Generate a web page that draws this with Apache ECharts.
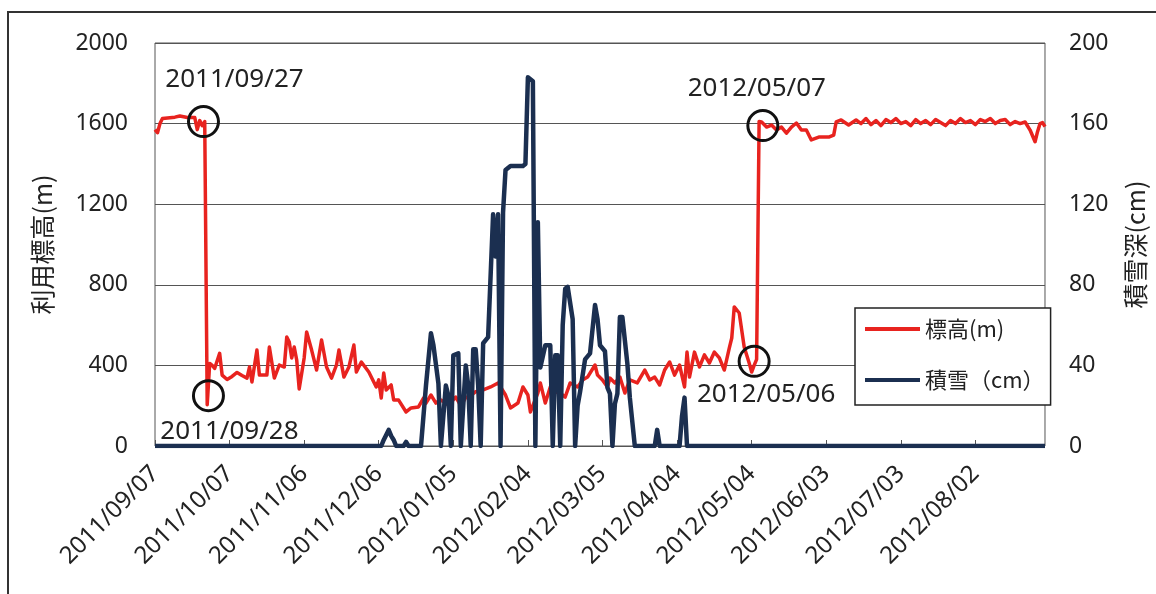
<!DOCTYPE html>
<html>
<head>
<meta charset="utf-8">
<script src="https://cdn.jsdelivr.net/npm/echarts@6/dist/echarts.min.js"></script>
<style>
  html, body { margin: 0; padding: 0; background: #fff; }
  #chart { width: 1156px; height: 594px; }
</style>
</head>
<body>
<div id="chart"></div>
<script>
// x軸: 2011/09/07 からの経過日数
var dateTicks = ["2011/09/07", "2011/10/07", "2011/11/06", "2011/12/06", "2012/01/05", "2012/02/04",
  "2012/03/05", "2012/04/04", "2012/05/04", "2012/06/03", "2012/07/03", "2012/08/02"];

// 標高(m) - 読み取り点
var elevDay = [0, 1, 2, 3, 5, 8, 10, 13, 16, 17, 18, 19, 20, 21, 22, 23, 24, 26, 27, 29, 31, 33, 35, 37, 38, 39,
  41, 42, 45, 46, 48, 50, 52, 53, 54, 55, 56, 57, 58, 60, 61, 63, 65, 67, 69, 71, 73, 74, 76, 78, 80, 81, 83,
  86, 89, 90, 91, 92, 93, 95, 96, 98, 101, 103, 106, 108, 109, 111, 113, 115, 118, 121, 123, 125, 127, 129,
  132, 135, 138, 141, 143, 146, 148, 150, 151, 154, 155, 157, 159, 161, 163, 165, 167, 170, 172, 174, 177,
  178, 180, 182, 183, 185, 187, 189, 191, 194, 197, 199, 201, 203, 205, 207, 209, 211, 213, 214, 215, 217,
  219, 221, 223, 225, 227, 229, 231, 232, 233, 235, 237, 239, 240, 241, 242, 243, 244, 246, 248, 250, 252,
  254, 256, 258, 260, 262, 264, 267, 271, 273, 274, 276, 279, 282, 284, 286, 288, 290, 292, 294, 296, 298,
  300, 302, 304, 306, 308, 310, 312, 314, 316, 318, 320, 322, 324, 326, 328, 330, 332, 334, 336, 338, 340,
  342, 344, 346, 348, 350, 352, 354, 355, 356, 357, 358];
var elevM = [1570, 1555, 1600, 1625, 1628, 1632, 1638, 1630, 1630, 1570, 1615, 1590, 1610, 205, 410, 400, 385,
  460, 352, 330, 345, 365, 350, 337, 392, 318, 476, 352, 352, 491, 337, 402, 392, 541, 516, 437, 491, 427,
  283, 437, 566, 476, 377, 526, 392, 337, 402, 476, 342, 392, 501, 367, 417, 367, 293, 328, 238, 362, 278,
  303, 228, 228, 169, 189, 194, 238, 213, 253, 213, 228, 203, 243, 200, 240, 250, 270, 278, 293, 313, 253,
  189, 213, 293, 253, 169, 263, 313, 213, 293, 268, 263, 243, 313, 293, 328, 342, 402, 352, 328, 293, 337,
  313, 342, 263, 328, 313, 377, 328, 342, 303, 377, 417, 352, 402, 293, 466, 342, 466, 392, 452, 412, 466,
  437, 377, 486, 536, 690, 660, 491, 412, 367, 400, 430, 1610, 1608, 1583, 1593, 1568, 1583, 1553, 1583,
  1603, 1568, 1568, 1519, 1533, 1533, 1543, 1608, 1618, 1593, 1618, 1600, 1625, 1595, 1615, 1590, 1620,
  1605, 1625, 1600, 1610, 1590, 1620, 1600, 1615, 1595, 1620, 1605, 1590, 1615, 1600, 1625, 1605, 1615,
  1595, 1620, 1610, 1625, 1600, 1615, 1620, 1595, 1610, 1600, 1608, 1568, 1510, 1560, 1600, 1605, 1585];

// 積雪(cm) - 読み取り点
var snowDay = [0, 91, 92, 94, 95, 96, 97, 100, 101, 102, 107, 109, 111, 112, 114, 115, 117, 118, 119, 120, 122,
  123, 125, 126, 127, 128, 129, 130, 131, 132, 134, 136, 137, 138, 139, 140, 141, 143, 148, 149, 150, 151,
  152, 153, 154, 155, 157, 159, 160, 161, 162, 163, 164, 165, 166, 168, 169, 170, 171, 173, 175, 177, 178,
  179, 181, 182, 183, 184, 185, 186, 187, 188, 190, 191, 193, 201, 202, 203, 211, 212, 213, 214, 358];
var snowCm = [0, 0, 3, 8, 5, 3, 0, 0, 2, 0, 0, 30, 56, 50, 31, 0, 30, 25, 0, 45, 46, 0, 40, 30, 0, 48, 48, 30,
  0, 51, 54, 115, 94, 115, 0, 116, 137, 139, 139, 140, 183, 182, 181, 0, 111, 39, 50, 50, 0, 45, 45, 0, 60,
  78, 79, 63, 0, 20, 27, 43, 46, 70, 63, 50, 47, 29, 26, 0, 21, 26, 64, 64, 41, 24, 0, 0, 8, 0, 0, 15, 24,
  0, 0];

// 注記
var noteText = ["2011/09/27", "2011/09/28", "2012/05/07", "2012/05/06"];
var noteDay = [19.5, 21.5, 244.5, 241];
var noteM = [1610, 250, 1590, 420];
var noteOffset = [[31, -42], [21, 36], [-6, -37], [12, 33]];

var numFont = "Noto Sans";
var jpFont = "Noto Sans CJK JP";

var myChart = echarts.init(document.getElementById("chart"));
var option = {
  animation: false,
  backgroundColor: "#fff",
  graphic: [{
    type: "rect",
    shape: { x: 8, y: 12, width: 1200, height: 700 },
    style: { fill: "none", stroke: "#333", lineWidth: 2 },
    silent: true
  }],
  grid: {
    show: true,
    left: 155, right: 105, top: 43, bottom: 148,
    borderColor: "#555", borderWidth: 1
  },
  legend: {
    orient: "vertical",
    left: 855, top: 308,
    backgroundColor: "#fff",
    borderColor: "#222", borderWidth: 1.5,
    padding: [8, 6, 12, 10],
    itemGap: 25,
    itemWidth: 55, itemHeight: 4,
    icon: "rect",
    textStyle: { fontFamily: jpFont, fontSize: 22, color: "#222", lineHeight: 26 },
    data: ["標高(m)", "積雪（cm）"]
  },
  xAxis: {
    type: "value",
    min: 0, max: 358, interval: 30,
    splitLine: { show: false },
    axisLine: { show: false },
    axisTick: { show: true, inside: true, length: 6, lineStyle: { color: "#555" } },
    axisLabel: {
      rotate: 45, margin: 24, showMaxLabel: false,
      fontFamily: numFont, fontSize: 24, color: "#222",
      formatter: function (v) { return dateTicks[v / 30] || ""; }
    }
  },
  yAxis: [{
    type: "value",
    min: 0, max: 2000, interval: 400,
    name: "利用標高(m)", nameLocation: "middle", nameRotate: 90, nameGap: 100,
    nameTextStyle: { fontFamily: jpFont, fontSize: 25, color: "#222" },
    axisLine: { show: false }, axisTick: { show: false },
    axisLabel: {
      margin: 27, fontFamily: numFont, fontSize: 23, color: "#222",
      formatter: function (v) { return String(v); }
    },
    splitLine: { lineStyle: { color: "#555", width: 1 } }
  }, {
    type: "value",
    min: 0, max: 200, interval: 40,
    name: "積雪深(cm)", nameLocation: "middle", nameRotate: 90, nameGap: 78,
    nameTextStyle: { fontFamily: jpFont, fontSize: 25, color: "#222" },
    axisLine: { show: false }, axisTick: { show: false },
    axisLabel: {
      margin: 24, fontFamily: numFont, fontSize: 23, color: "#222",
      formatter: function (v) { return String(v); }
    },
    splitLine: { show: false }
  }],
  series: [{
    name: "標高(m)",
    type: "line",
    yAxisIndex: 0,
    symbol: "none",
    color: "#e8231f",
    lineStyle: { width: 3.5, color: "#e8231f", join: "round" },
    data: elevDay.map(function (d, i) { return [d, elevM[i]]; }),
    markPoint: {
      symbol: "circle",
      symbolSize: 30,
      itemStyle: { color: "rgba(0,0,0,0)", borderColor: "#111", borderWidth: 3 },
      label: { show: false },
      data: noteText.map(function (t, i) {
        return {
          coord: [noteDay[i], noteM[i]],
          label: {
            show: true, formatter: t, position: "inside", offset: noteOffset[i],
            fontFamily: numFont, fontSize: 26, color: "#222"
          }
        };
      })
    },
    z: 2
  }, {
    name: "積雪（cm）",
    type: "line",
    yAxisIndex: 1,
    symbol: "none",
    color: "#1b2f50",
    lineStyle: { width: 4.5, color: "#1b2f50", join: "round" },
    data: snowDay.map(function (d, i) { return [d, snowCm[i]]; }),
    z: 3
  }]
};
myChart.setOption(option);
window.onresize = myChart.resize;
</script>
</body>
</html>
